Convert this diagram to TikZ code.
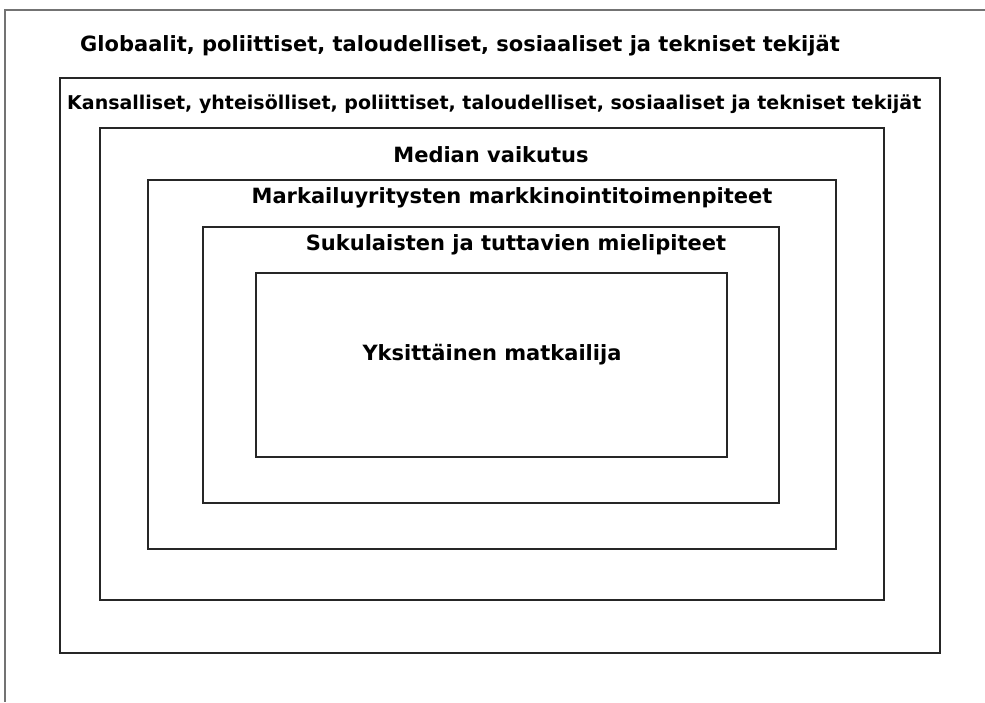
\documentclass[tikz,border=0pt]{standalone}
\usepackage{fontspec}
\setmainfont{DejaVu Sans}
\begin{document}
\begin{tikzpicture}[x=1pt,y=-1pt,
  box/.style={draw=black!85,line width=1.3pt},
  lbl/.style={font=\bfseries\fontsize{21}{25}\selectfont,inner sep=0pt}]
\useasboundingbox (0,0) rectangle (985,702);
\fill[white] (0,0) rectangle (985,702);
\draw[black!55,line width=1.2pt] (985,10) -- (5,10) -- (5,702);
\draw[box] (60,78) rectangle (940,653);
\draw[box] (100,128) rectangle (884,600);
\draw[box] (148,180) rectangle (836,549);
\draw[box] (203,227) rectangle (779,503);
\draw[box] (256,273) rectangle (727,457);
\node[lbl,anchor=west] (g) at (80,46) {Globaalit, poliittiset, taloudelliset, sosiaaliset ja tekniset tekijät};
\node[lbl,anchor=west,font=\bfseries\fontsize{19}{23}\selectfont] (k) at (67,104) {Kansalliset, yhteisölliset, poliittiset, taloudelliset, sosiaaliset ja tekniset tekijät};
\node[lbl] (m) at (491,155) {Median vaikutus};
\node[lbl] (mk) at (512,198) {Markailuyritysten markkinointitoimenpiteet};
\node[lbl] (s) at (516,245) {Sukulaisten ja tuttavien mielipiteet};
\node[lbl] (y) at (492,355) {Yksittäinen matkailija};
\end{tikzpicture}
\end{document}
